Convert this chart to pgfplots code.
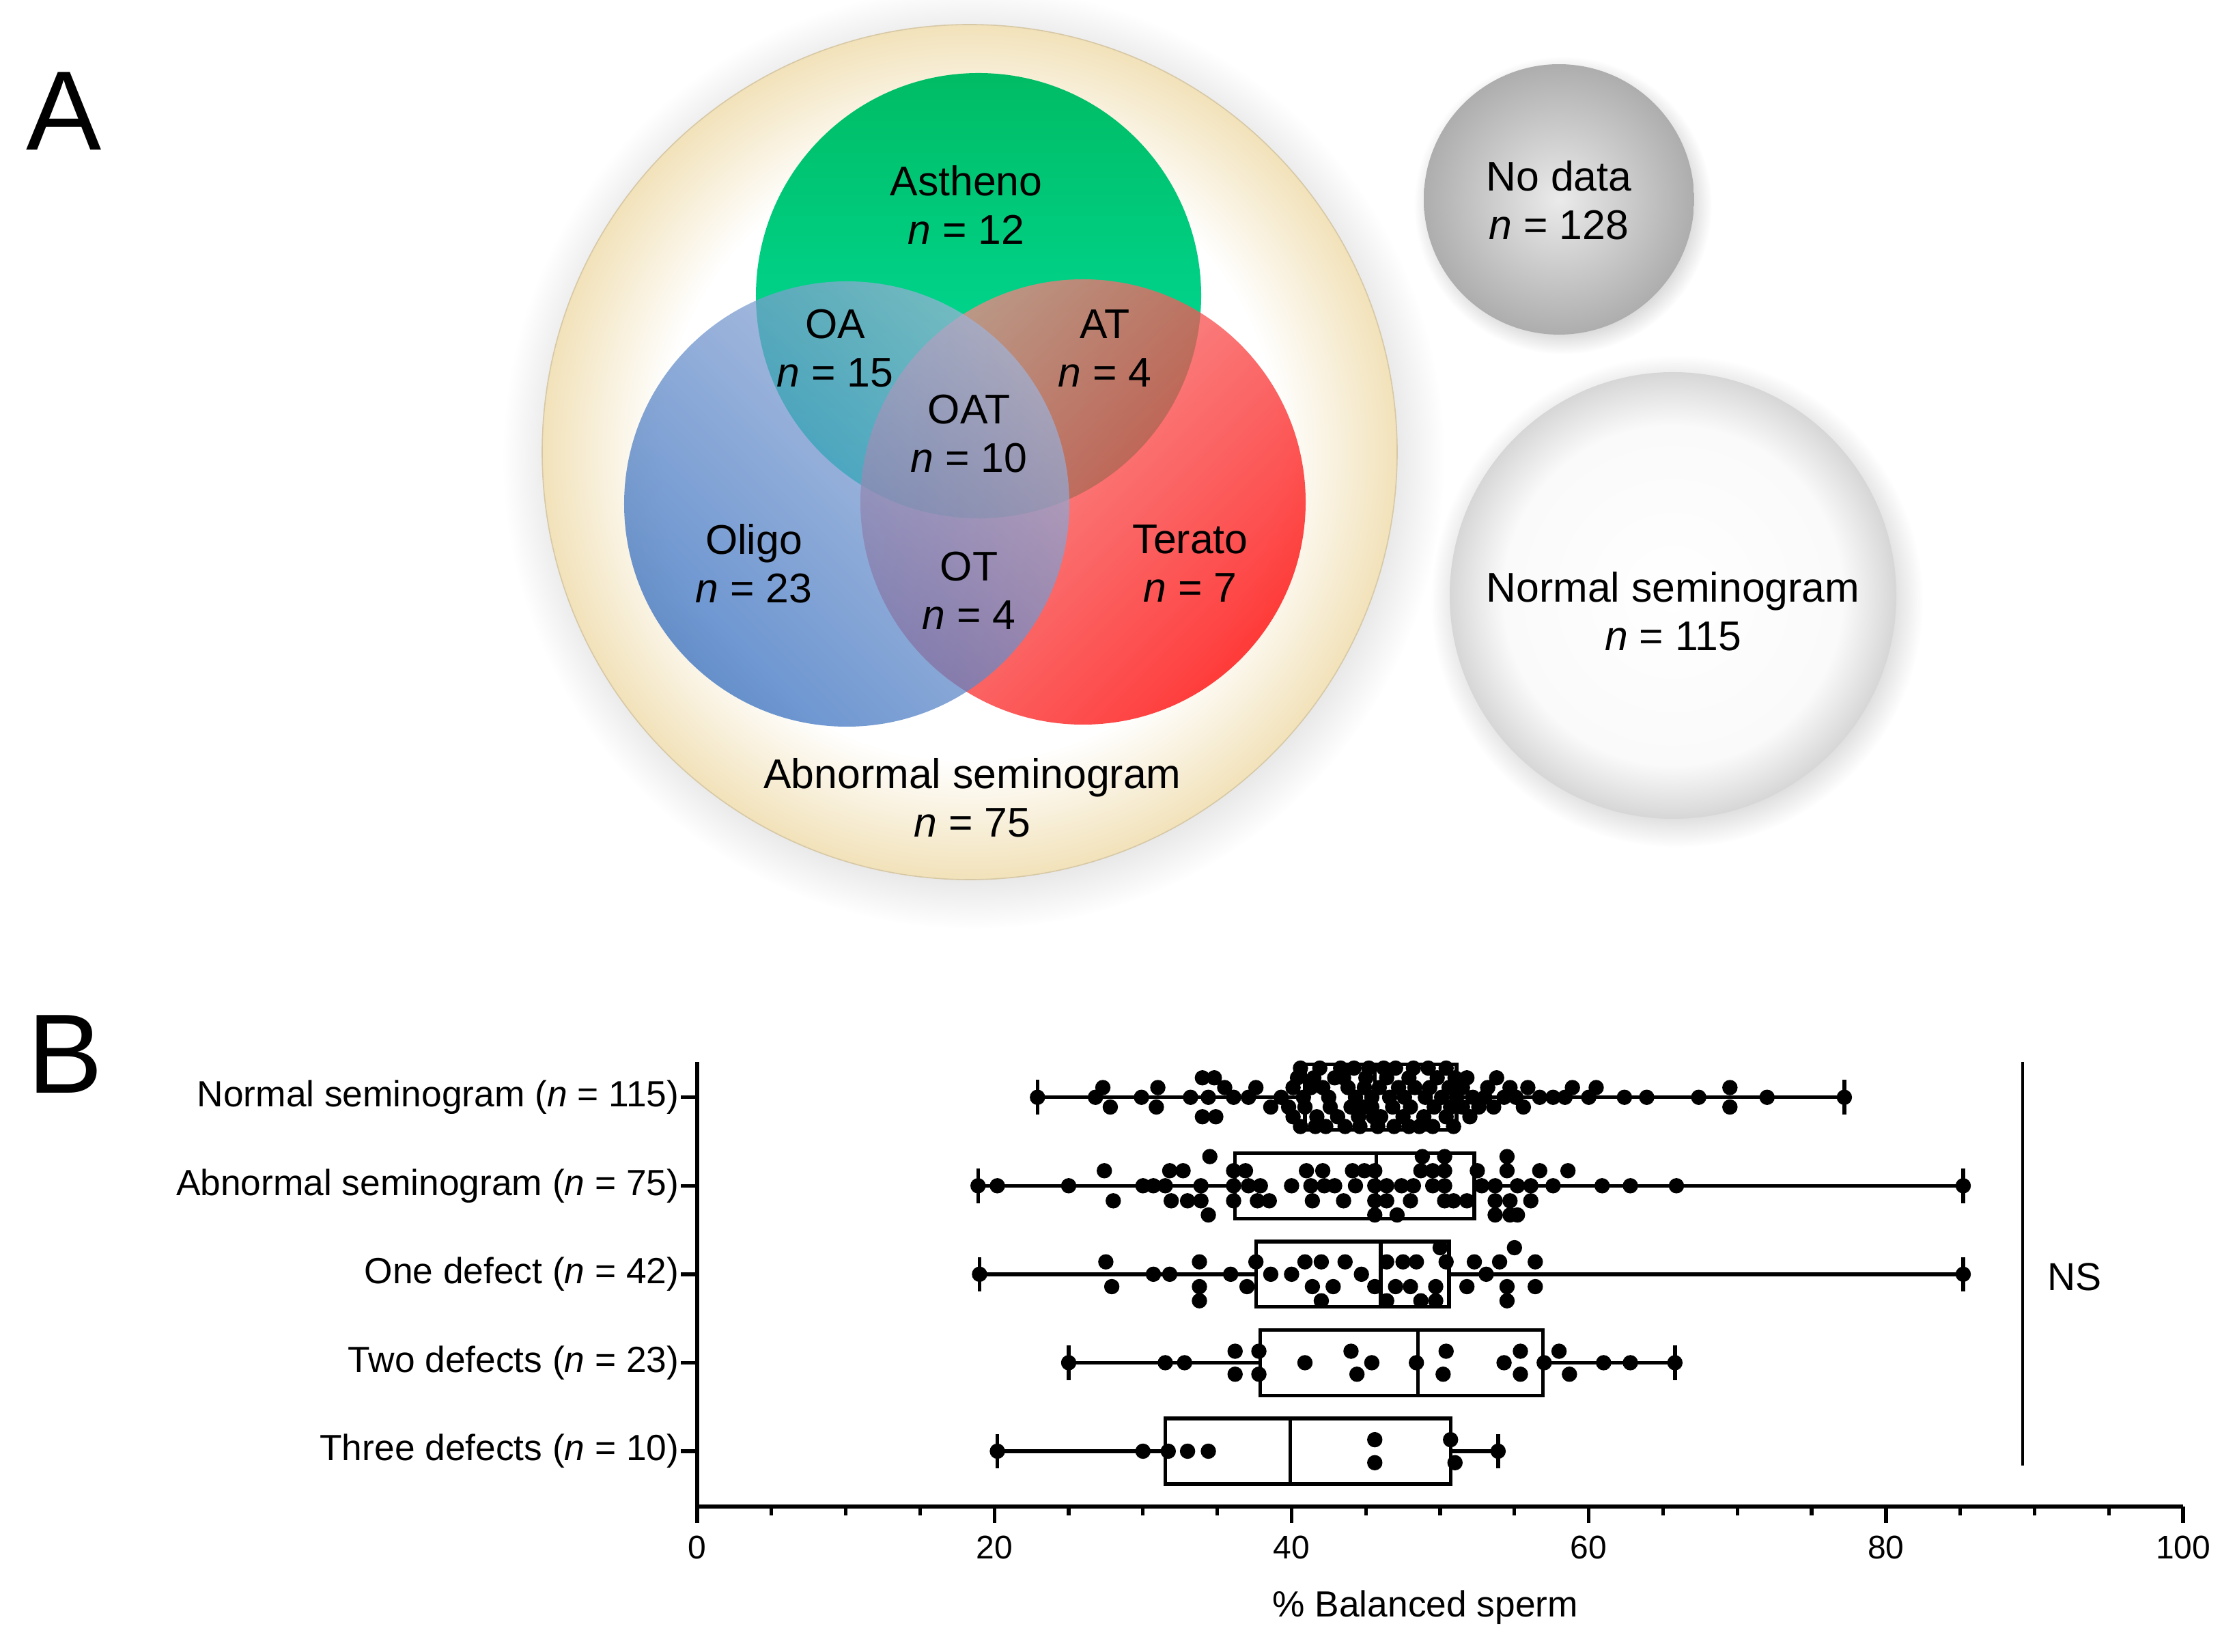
\documentclass[border=0pt]{standalone}
\usepackage{fontspec}
\setmainfont{Liberation Sans}
\usepackage{pgfplots}
\usepackage{pgfplotstable}
\pgfplotsset{compat=1.18}
\usepgfplotslibrary{statistics}
\usetikzlibrary{shadows}

\definecolor{gTop}{RGB}{0,188,100}
\definecolor{gBot}{RGB}{0,230,170}
\definecolor{rLight}{RGB}{245,135,135}
\definecolor{rDark}{RGB}{255,0,0}
\definecolor{bLight}{RGB}{160,178,215}
\definecolor{bDark}{RGB}{45,105,190}
\definecolor{ringC}{RGB}{242,226,186}
\definecolor{ringEdge}{RGB}{215,200,165}

\pgfdeclareradialshading{ringshade}{\pgfpoint{0bp}{0bp}}{color(0bp)=(white); color(18bp)=(white); color(25bp)=(ringC); color(50bp)=(ringC)}
\pgfdeclareradialshading{whiteball}{\pgfpoint{0bp}{0bp}}{color(0bp)=(white); color(19bp)=(white!98!black); color(25bp)=(white!84!black); color(50bp)=(white!84!black)}
\pgfdeclareradialshading{greyball}{\pgfpoint{0bp}{0bp}}{color(0bp)=(white!92!black); color(25bp)=(white!68!black); color(50bp)=(white!68!black)}

\newcommand{\venn}{\fontsize{11.4}{13.3}\selectfont}

% % balanced sperm, one table per group (y = row + beeswarm offset)
\pgfplotstableread{
x y
22.9 5
26.8 5
27.3 5.11
27.8 4.89
29.9 5
31.0 5.11
30.9 4.89
33.2 5
34.0 5.22
34.8 5.22
34.0 4.78
34.9 4.78
34.4 5
35.5 5.11
36.1 5
37.1 5
37.6 5.11
38.6 4.89
39.3 5
39.8 4.89
40.1 5.11
40.1 4.78
40.4 5.22
40.6 5.33
40.6 4.67
40.8 5
40.9 4.89
41.3 5.11
41.5 5.22
41.6 4.67
41.7 4.78
41.9 5.33
42.1 5.11
42.3 4.67
42.5 5
42.6 4.89
42.9 5.22
43.1 4.78
43.3 5.33
43.5 5.22
43.6 4.67
43.8 5.11
44.0 4.89
44.2 5.33
44.3 5
44.5 4.78
44.6 4.67
44.8 4.89
44.9 5.11
45.0 5.22
45.2 5.33
45.4 5
45.4 4.89
45.5 4.78
45.8 4.67
45.9 5.11
46.0 4.78
46.2 5.33
46.4 5.22
46.6 5
46.8 4.89
46.9 4.67
47.0 5.33
47.2 5.11
47.5 4.78
47.6 5
47.9 5.22
47.9 4.67
48.0 4.89
48.2 5.33
48.3 5.11
48.6 4.67
48.9 4.78
49.0 5
49.2 5.33
49.3 5.11
49.5 4.67
49.6 4.89
49.8 5.22
50.1 5
50.4 4.78
50.4 5.33
50.6 5.11
50.7 4.89
50.9 4.67
51.0 5.22
51.1 5
51.5 5.11
51.5 4.89
51.8 5.22
52.0 4.78
52.2 5
52.6 4.89
53.0 5
53.2 5.11
53.6 4.89
53.8 5.22
54.3 5
54.7 5.11
55.1 5
55.6 4.89
55.9 5.11
56.7 5
57.6 5
58.4 5
58.9 5.11
60.0 5
60.5 5.11
62.4 5
63.9 5
67.4 5
69.5 5.11
69.5 4.89
72.0 5
77.2 5
}\normalsemi

\pgfplotstableread{
x y
18.9 4
20.2 4
25.0 4
27.4 4.17
28.0 3.83
30.0 4
30.7 4
31.5 4
31.8 4.17
31.9 3.83
32.7 4.17
33.0 3.83
33.9 4
33.9 3.83
34.5 4.33
34.4 3.67
36.1 4.17
36.1 4
36.1 3.83
36.9 4.17
37.1 4
37.9 4
37.7 3.83
38.5 3.83
40.0 4
41.0 4.17
41.3 4
41.4 3.83
42.1 4.17
42.2 4
42.9 4
43.5 3.83
44.1 4.17
44.3 4
44.9 4.17
45.6 4.17
45.6 4
45.6 3.83
45.6 3.67
46.4 4
46.4 3.83
47.1 3.67
47.4 4
48.0 3.83
48.2 4
48.7 4.17
48.8 4.33
49.5 4.17
49.5 4
50.3 4.33
50.3 4.17
50.3 4
50.3 3.83
50.9 3.83
51.8 3.83
52.5 4.17
52.8 4
53.7 4
53.7 3.83
53.7 3.67
54.5 4.33
54.5 4.17
54.7 3.83
54.7 3.67
55.2 4
55.2 3.67
56.1 4
56.1 3.83
56.7 4.17
57.6 4
58.6 4.17
60.9 4
62.8 4
65.9 4
85.2 4
}\abnormalsemi

\pgfplotstableread{
x y
19.0 3
27.5 3.14
27.9 2.86
30.7 3
31.8 3
33.8 3.14
33.8 2.86
33.8 2.70
35.9 3
37.0 2.86
37.6 3.14
38.6 3
40.0 3
40.9 3.14
41.4 2.86
42.0 3.14
42.0 2.70
42.8 2.86
43.6 3.14
44.7 3
45.6 2.86
46.4 3.14
46.4 2.70
47.0 2.86
47.5 3.14
48.0 2.86
48.4 3.14
48.7 2.70
49.7 2.86
49.7 2.70
50.0 3.30
50.4 3.14
51.8 2.86
52.3 3.14
53.1 3
54.0 3.14
54.5 2.86
54.5 2.70
55.0 3.30
56.4 3.14
56.4 2.86
85.2 3
}\onedefect

\pgfplotstableread{
x y
25.0 2
31.5 2
32.8 2
36.2 2.13
36.2 1.87
37.8 2.13
37.8 1.87
40.9 2
44.0 2.13
44.4 1.87
45.4 2
48.4 2
50.4 2.13
50.2 1.87
54.3 2
55.4 2.13
55.4 1.87
57.0 2
58.0 2.13
58.7 1.87
61.0 2
62.8 2
65.8 2
}\twodefects

\pgfplotstableread{
x y
20.2 1
30.0 1
31.7 1
33.0 1
34.4 1
45.6 1.13
45.6 0.87
50.7 1.13
51.0 0.87
53.9 1
}\threedefects

\begin{document}
\begin{tikzpicture}
% panel A: page-sized axis in pixel units of the reference
\begin{axis}[name=bg, at={(0,0)}, anchor=south west, scale only axis,
  width=614.01pt, height=453.80pt,
  xmin=0, xmax=3273, ymin=0, ymax=2419, y dir=reverse,
  hide axis, clip=false]
\addplot[draw=none, forget plot] coordinates {(0,0) (3273,2419)};
\path (axis cs:0,0) rectangle (axis cs:3273,2419);

\shade[shading=ringshade, circular drop shadow={shadow xshift=1pt, shadow yshift=-1.5pt, opacity=0.25}] (axis cs:1420,662) circle[radius=117.44pt];
\draw[ringEdge, line width=0.3pt] (axis cs:1420,662) circle[radius=117.44pt];

\shade[top color=gTop, bottom color=gBot] (axis cs:1433,433) circle[radius=61.16pt];
\shade[top color=rLight, bottom color=rDark, shading angle=45, opacity=0.76] (axis cs:1586,735) circle[radius=61.16pt];
\shade[top color=bLight, bottom color=bDark, shading angle=-45, opacity=0.72] (axis cs:1240,738) circle[radius=61.16pt];

\shade[shading=greyball, circular drop shadow={shadow xshift=1pt, shadow yshift=-1.5pt, opacity=0.3}] (axis cs:2283,292) circle[radius=37.14pt];
\shade[shading=whiteball, circular drop shadow={shadow xshift=1pt, shadow yshift=-1.5pt, opacity=0.3}] (axis cs:2450,872) circle[radius=61.35pt];

\node[align=center, font=\venn] at (axis cs:1415,300) {Astheno\\\textit{n} = 12};
\node[align=center, font=\venn] at (axis cs:1223,510) {OA\\\textit{n} = 15};
\node[align=center, font=\venn] at (axis cs:1618,510) {AT\\\textit{n} = 4};
\node[align=center, font=\venn] at (axis cs:1419,635) {OAT\\\textit{n} = 10};
\node[align=center, font=\venn] at (axis cs:1104,825) {Oligo\\\textit{n} = 23};
\node[align=center, font=\venn] at (axis cs:1419,865) {OT\\\textit{n} = 4};
\node[align=center, font=\venn] at (axis cs:1743,825) {Terato\\\textit{n} = 7};
\node[align=center, font=\venn] at (axis cs:1424,1168) {Abnormal seminogram\\\textit{n} = 75};
\node[align=center, font=\venn] at (axis cs:2283,293) {No data\\\textit{n} = 128};
\node[align=center, font=\venn] at (axis cs:2450,895) {Normal seminogram\\\textit{n} = 115};

\node[font=\fontsize{31}{31}\selectfont] at (axis cs:94,163) {A};
\node[font=\fontsize{31}{31}\selectfont] at (axis cs:96,1544) {B};
\end{axis}

% panel B: box plots with all points
\begin{axis}[name=boxes, at={(191.54pt,39.96pt)}, anchor=south west, scale only axis,
  width=408.22pt, height=122.13pt,
  xmin=0, xmax=100, ymin=0.375, ymax=5.40,
  axis lines=left, axis line style={-, line width=1pt},
  xtick={0,20,...,100}, minor x tick num=3,
  ytick={1,2,3,4,5},
  yticklabels={Three defects (\textit{n} = 10), Two defects (\textit{n} = 23), One defect (\textit{n} = 42), Abnormal seminogram (\textit{n} = 75), Normal seminogram (\textit{n} = 115)},
  tick align=outside, major tick length=4.5pt, minor tick length=2.4pt,
  tick style={line width=1pt, black},
  ticklabel style={font=\fontsize{10}{12}\selectfont},
  xticklabel style={font=\fontsize{9}{10}\selectfont},
  yticklabel style={inner sep=0.3pt},
  /pgf/number format/assume math mode=true,
  xlabel={\% Balanced sperm},
  xlabel style={at={(axis description cs:0.49,0)}, anchor=center, yshift=-27.8pt, font=\fontsize{10}{12}\selectfont},
  clip=false]

\addplot[black, line width=1pt, boxplot prepared={draw direction=x, draw position=5, lower whisker=22.9, lower quartile=40.9, median=45.6, upper quartile=51.1, upper whisker=77.2, box extend=0.74, whisker extend=0.39}] coordinates {};
\addplot[black, line width=1pt, boxplot prepared={draw direction=x, draw position=4, lower whisker=18.9, lower quartile=36.2, median=45.7, upper quartile=52.3, upper whisker=85.2, box extend=0.74, whisker extend=0.39}] coordinates {};
\addplot[black, line width=1pt, boxplot prepared={draw direction=x, draw position=3, lower whisker=19.0, lower quartile=37.6, median=46.0, upper quartile=50.6, upper whisker=85.2, box extend=0.74, whisker extend=0.39}] coordinates {};
\addplot[black, line width=1pt, boxplot prepared={draw direction=x, draw position=2, lower whisker=25.0, lower quartile=37.9, median=48.5, upper quartile=56.9, upper whisker=65.8, box extend=0.74, whisker extend=0.39}] coordinates {};
\addplot[black, line width=1pt, boxplot prepared={draw direction=x, draw position=1, lower whisker=20.2, lower quartile=31.5, median=39.9, upper quartile=50.7, upper whisker=53.9, box extend=0.74, whisker extend=0.39}] coordinates {};

\addplot[only marks, mark=*, mark size=1.9pt, black] table[x=x, y=y] {\normalsemi};
\addplot[only marks, mark=*, mark size=1.9pt, black] table[x=x, y=y] {\abnormalsemi};
\addplot[only marks, mark=*, mark size=1.9pt, black] table[x=x, y=y] {\onedefect};
\addplot[only marks, mark=*, mark size=1.9pt, black] table[x=x, y=y] {\twodefects};
\addplot[only marks, mark=*, mark size=1.9pt, black] table[x=x, y=y] {\threedefects};

\draw[line width=0.6pt] (axis cs:89.2,0.84) -- (axis cs:89.2,5.40);
\node[font=\fontsize{10.7}{12}\selectfont] at (axis cs:92.7,2.97) {NS};
\end{axis}
\end{tikzpicture}
\end{document}
